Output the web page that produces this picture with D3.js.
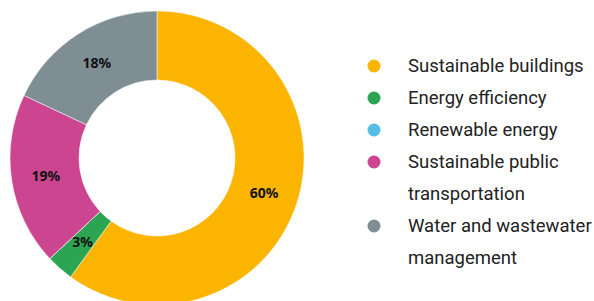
<!DOCTYPE html>
<html lang="en">
  <head>
    <meta charset='utf-8'>
    <script src='https://d3js.org/d3.v7.min.js'></script>
    <style>
      body { margin: 0px; background: #fff; }
      .slice-label {
        font-family: 'Noto Sans', sans-serif;
        font-weight: bold;
        font-size: 14px;
        fill: #111;
      }
      .legend-text {
        font-family: Roboto, sans-serif;
        font-size: 18.5px;
        fill: #222;
      }
    </style>
  </head>
  <body>
    <div id='viz'></div>
    <script>
      // chart data
      const categories = ['Sustainable buildings', 'Energy efficiency', 'Renewable energy',
                          'Sustainable public transportation', 'Water and wastewater management'];
      const shares = [60, 3, 0, 19, 18];
      const colors = ['#FBB400', '#2BA551', '#57BEE6', '#CC4590', '#7F8E95'];
      // legend labels wrap over two lines where needed
      const legendLines = [['Sustainable buildings'], ['Energy efficiency'], ['Renewable energy'],
                           ['Sustainable public', 'transportation'], ['Water and wastewater', 'management']];

      const width = 594, height = 301;
      const svg = d3.select('#viz').append('svg')
        .attr('width', width)
        .attr('height', height);

      const cx = 157, cy = 158;
      const outerR = 147, innerR = 78;

      const data = categories.map((c, i) => ({ name: c, value: shares[i], color: colors[i] }));

      const pie = d3.pie().sort(null).value(d => d.value);
      const arc = d3.arc().innerRadius(innerR).outerRadius(outerR);

      const g = svg.append('g').attr('transform', `translate(${cx},${cy})`);

      const arcs = g.selectAll('g.slice').data(pie(data)).enter()
        .append('g').attr('class', 'slice');

      arcs.append('path')
        .attr('d', arc)
        .attr('fill', d => d.data.color)
        .attr('stroke', '#fff')
        .attr('stroke-width', 0.5);

      arcs.filter(d => d.data.value > 0)
        .append('text')
        .attr('class', 'slice-label')
        .attr('transform', d => `translate(${arc.centroid(d)})`)
        .attr('text-anchor', 'middle')
        .attr('dy', '0.35em')
        .text(d => d.data.value + '%');

      // legend
      const y = d3.scaleLinear().domain([0, 1]).range([66, 98]);
      let row = 0;
      const legend = svg.append('g');
      legendLines.forEach((lines, i) => {
        const item = legend.append('g');
        item.append('circle')
          .attr('cx', 374)
          .attr('cy', y(row))
          .attr('r', 6.5)
          .attr('fill', colors[i]);
        lines.forEach((t, j) => {
          item.append('text')
            .attr('class', 'legend-text')
            .attr('x', 408)
            .attr('y', y(row + j))
            .attr('dy', '0.35em')
            .text(t);
        });
        row += lines.length;
      });
    </script>
  </body>
</html>
